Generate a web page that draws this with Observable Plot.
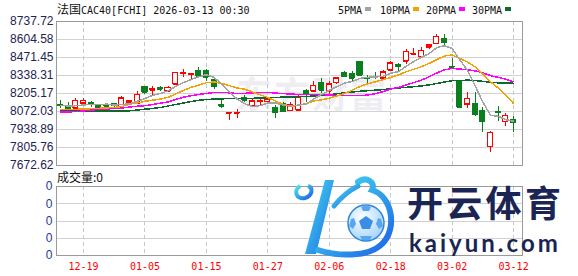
<!DOCTYPE html>
<html><head><meta charset="utf-8">
<script src="https://cdn.jsdelivr.net/npm/d3@7"></script>
<script src="https://cdn.jsdelivr.net/npm/@observablehq/plot@0.6"></script>
<style>
html,body{margin:0;padding:0;background:#fff;}
#wrap{position:relative;width:578px;height:276px;overflow:hidden;}
.abs{position:absolute;white-space:nowrap;}
.mono{font-family:"DejaVu Sans Mono",monospace;font-size:10px;}
.cjk{font-family:"Noto Sans CJK SC",sans-serif;font-size:12px;}
</style></head><body><div id="wrap"></div>
<script>
// ---- data ----
const dates = ["12-16","12-17","12-18","12-19","12-22","12-23","12-24","12-29","12-30","12-31",
"01-02","01-05","01-06","01-07","01-08","01-09","01-12","01-13","01-14","01-15",
"01-16","01-19","01-20","01-21","01-22","01-23","01-26","01-27","01-28","01-29",
"01-30","02-02","02-03","02-04","02-05","02-06","02-09","02-10","02-11","02-12",
"02-13","02-16","02-17","02-18","02-19","02-20","02-23","02-24","02-25","02-26",
"02-27","03-02","03-03","03-04","03-05","03-06","03-09","03-10","03-11","03-12"];
const tickDates = ["12-19","01-05","01-15","01-27","02-06","02-18","03-02","03-12"];
const yTicks = [7672.62,7805.76,7938.89,8072.03,8205.17,8338.31,8471.45,8604.58,8737.72];
const volTickLabels = ["0","0","0","0","0"];

const open = [8120.1,8114.9,8095.7,8134.9,8138.6,8116.4,8116.4,8126.0,8105.3,8138.6,
8131.2,8249.6,8229.6,8245.9,8220.0,8275.4,8350.9,8344.2,8369.4,8367.9,
8308.7,8120.1,8059.5,8059.5,8169.7,8114.9,8142.3,8143.8,8099.4,8125.3,
8077.2,8083.1,8225.2,8220.0,8282.8,8221.5,8286.5,8356.8,8347.9,8435.9,
8319.8,8330.9,8317.6,8377.5,8412.3,8443.3,8495.9,8477.4,8547.6,8572.8,
8610.5,8402.7,8297.6,8127.5,8129.0,8079.4,7809.5,8066.9,7995.9,8007.0];
const close = [8114.2,8090.5,8149.7,8149.7,8122.3,8100.1,8110.5,8116.4,8168.2,8146.0,
8196.3,8214.1,8234.8,8234.8,8245.9,8358.3,8356.8,8349.4,8332.4,8325.7,
8253.3,8111.2,8064.6,8064.6,8153.4,8148.2,8148.2,8159.3,8064.6,8072.0,
8121.6,8177.8,8197.8,8260.7,8229.6,8275.4,8318.3,8330.9,8317.6,8342.0,
8316.1,8327.2,8362.0,8427.1,8402.7,8514.4,8501.0,8521.8,8561.7,8625.3,
8584.6,8397.5,8103.8,8166.0,8046.2,7994.4,7914.5,8063.2,8038.8,7988.5];
const high = [8153.4,8138.6,8166.7,8170.4,8148.2,8127.5,8131.2,8133.4,8184.5,8149.7,
8217.8,8259.2,8257.0,8259.2,8257.0,8360.5,8381.2,8353.1,8393.8,8384.9,
8327.2,8157.1,8066.1,8089.1,8190.4,8158.6,8163.0,8175.6,8116.4,8140.8,
8138.6,8200.0,8237.0,8293.9,8313.9,8293.9,8319.8,8369.4,8364.2,8444.1,
8336.1,8356.8,8373.8,8441.9,8424.9,8532.8,8536.5,8549.1,8561.7,8643.8,
8643.1,8462.6,8297.6,8214.1,8212.6,8100.1,7926.3,8107.5,8055.8,8035.1];
const low = [8094.2,8077.2,8095.7,8134.9,8103.8,8092.0,8100.1,8096.4,8105.3,8116.4,
8131.2,8195.6,8183.0,8216.3,8212.6,8271.7,8323.5,8312.4,8321.3,8295.4,
8232.5,8096.4,8005.5,8016.6,8138.6,8099.4,8111.2,8123.8,8022.5,8066.1,
8077.2,8083.1,8136.4,8211.1,8205.2,8194.1,8269.5,8321.3,8284.3,8332.4,
8277.7,8308.7,8305.0,8364.2,8362.0,8421.9,8487.7,8466.3,8532.8,8572.8,
8558.7,8391.6,8092.0,8092.8,8032.8,7914.5,7767.3,7994.4,7963.3,7920.4];

const ma5 = [8117.9,8112.7,8114.9,8120.1,8125.3,8122.3,8126.8,8120.1,8123.8,8128.2,
8147.5,8168.2,8191.9,8205.2,8225.2,8257.7,8285.8,8308.7,8328.7,8344.2,
8323.5,8274.7,8217.8,8163.8,8129.7,8108.3,8115.7,8134.9,8134.9,8118.6,
8113.5,8119.4,8126.8,8166.0,8197.8,8228.1,8256.2,8282.8,8294.7,8316.9,
8325.0,8326.5,8333.1,8354.6,8367.2,8406.4,8441.1,8473.7,8500.3,8544.7,
8558.7,8538.0,8454.4,8375.3,8259.9,8141.6,8044.7,8036.5,8011.4,7999.6];
const ma10 = [8088.3,8088.3,8088.3,8089.8,8092.8,8095.7,8098.7,8101.6,8109.0,8126.8,
8134.9,8147.5,8155.6,8164.5,8176.3,8202.2,8227.4,8250.3,8266.6,8285.1,
8290.2,8279.9,8262.9,8245.9,8237.0,8216.3,8194.8,8176.3,8149.0,8123.8,
8110.5,8117.2,8130.5,8150.4,8157.8,8170.4,8187.4,8205.2,8230.3,8257.0,
8276.9,8291.7,8308.0,8324.3,8342.0,8365.7,8384.2,8403.4,8427.8,8455.9,
8482.5,8489.9,8464.1,8438.2,8401.9,8350.2,8291.7,8245.9,8193.3,8129.7];
const ma20 = [8066.9,8068.3,8072.0,8075.7,8083.1,8086.8,8090.5,8094.2,8097.9,8105.3,
8111.2,8114.9,8123.8,8133.4,8142.3,8160.8,8177.1,8188.9,8197.8,8205.9,
8212.6,8214.1,8209.6,8205.2,8206.7,8208.9,8211.1,8213.3,8208.1,8204.4,
8200.7,8198.5,8197.0,8198.5,8197.8,8193.3,8191.1,8190.4,8189.6,8190.4,
8193.3,8204.4,8219.2,8237.7,8250.3,8268.0,8285.8,8304.3,8328.7,8356.8,
8379.7,8390.8,8385.6,8381.2,8372.3,8358.3,8337.6,8324.3,8310.2,8292.5];
const ma30 = [8077.2,8077.2,8077.2,8077.2,8077.2,8077.2,8077.2,8077.2,8077.2,8077.2,
8083.1,8089.1,8094.2,8101.6,8112.7,8123.8,8134.9,8146.0,8154.9,8160.8,
8163.8,8166.0,8166.7,8168.2,8168.9,8169.7,8171.2,8172.6,8175.6,8178.5,
8178.5,8181.5,8183.0,8186.7,8190.4,8196.3,8203.0,8210.4,8215.5,8222.2,
8225.9,8229.6,8234.0,8240.7,8245.9,8251.0,8255.5,8261.4,8268.8,8279.1,
8290.2,8299.9,8300.6,8304.3,8300.6,8295.4,8288.0,8284.3,8283.6,8280.6];

// ---- build ----
const RED = "#ff0000", GREEN = "#0a7f1e";
const rows = dates.map((d, i) => ({i, date: d, open: open[i], close: close[i], high: high[i], low: low[i],
  ma5: ma5[i], ma10: ma10[i], ma20: ma20[i], ma30: ma30[i]}));
const tickIdx = tickDates.map(t => dates.indexOf(t));
const up = d => d.close >= d.open;
const col = d => up(d) ? RED : GREEN;
const xDomain = [-0.52, 60.16];
const half = 0.33;

const wrap = document.getElementById("wrap");

// faint watermark behind
const wm = document.createElement("div");
wm.className = "abs";
wm.style.cssText = "left:236px;top:66px;font-family:'Noto Sans CJK SC';font-weight:700;font-size:36px;color:#eeeef2;letter-spacing:2px;";
wm.textContent = "东方财富";
wrap.appendChild(wm);

const main = Plot.plot({
  width: 578, height: 170,
  marginLeft: 56, marginRight: 56, marginTop: 21, marginBottom: 5,
  x: {domain: xDomain, axis: null},
  y: {domain: [yTicks[0], yTicks[yTicks.length - 1]], axis: null},
  style: {background: "transparent", fontFamily: "'Liberation Sans', Arial, sans-serif", fontSize: "12px", color: "#1b2452", shapeRendering: "crispEdges", overflow: "visible"},
  marks: [
    Plot.ruleY(yTicks, {stroke: "#d2d2d2"}),
    Plot.ruleX(tickIdx, {stroke: "#c8c8c8", strokeDasharray: "4,3"}),
    Plot.ruleX(rows, {x: "i", y1: "low", y2: "high", stroke: col}),
    Plot.rect(rows, {x1: d => d.i - half, x2: d => d.i + half, y1: "open", y2: "close", fill: d => up(d) ? "white" : GREEN, stroke: col}),
    Plot.ruleY(rows, {x1: d => d.i - half, x2: d => d.i + half, y: "close", stroke: col}),
    Plot.ruleY(rows, {x1: d => d.i - half, x2: d => d.i + half, y: "open", stroke: col}),
    Plot.line(rows, {x: "i", y: "ma30", stroke: "#0b6a2c"}),
    Plot.line(rows, {x: "i", y: "ma20", stroke: "#ff00ff"}),
    Plot.line(rows, {x: "i", y: "ma10", stroke: "#f2a300"}),
    Plot.line(rows, {x: "i", y: "ma5", stroke: "#a3a3a3"}),
    Plot.frame({stroke: "#9a9a9a"}),
    Plot.axisY(yTicks, {tickSize: 0, tickPadding: 3, tickFormat: d => d.toFixed(2), label: null})
  ]
});
main.style.position = "absolute"; main.style.left = "0px"; main.style.top = "0px";
wrap.appendChild(main);

const vol = Plot.plot({
  width: 578, height: 106,
  marginLeft: 56, marginRight: 56, marginTop: 16, marginBottom: 21,
  x: {domain: xDomain, axis: null},
  y: {domain: [0, 4], axis: null},
  style: {background: "transparent", fontFamily: "'Liberation Sans', Arial, sans-serif", fontSize: "12px", color: "#1a3a9a", shapeRendering: "crispEdges", overflow: "visible"},
  marks: [
    Plot.ruleY([1, 2, 3], {stroke: "#d2d2d2"}),
    Plot.ruleX(tickIdx, {stroke: "#c8c8c8", strokeDasharray: "4,3"}),
    Plot.frame({stroke: "#9a9a9a"}),
    Plot.axisY([0, 1, 2, 3, 4], {tickSize: 0, tickPadding: 4, tickFormat: d => volTickLabels[d], label: null}),
    Plot.axisX(tickIdx, {tickSize: 0, tickPadding: 7, tickFormat: i => dates[i], fill: "#ff0000", fontFamily: "DejaVu Sans Mono", fontSize: 10, label: null})
  ]
});
vol.style.position = "absolute"; vol.style.left = "0px"; vol.style.top = "170px";
wrap.appendChild(vol);

function addDiv(html, css) {
  const el = document.createElement("div");
  el.className = "abs";
  el.style.cssText = css;
  el.innerHTML = html;
  wrap.appendChild(el);
  return el;
}
// title
addDiv('<span class="cjk">法国</span><span class="mono">CAC40[FCHI] 2026-03-13 00:30</span>', "left:57px;top:2px;line-height:14px;color:#111;");
// legend
const legend = [["5PMA", "#a3a3a3", 338, 365], ["10PMA", "#f2a300", 380, 413], ["20PMA", "#ff00ff", 426, 459], ["30PMA", "#0b6a2c", 472, 505]];
legend.forEach(([t, c, x, sx]) => {
  addDiv(`<span class="mono">${t}</span>`, `left:${x}px;top:2px;line-height:14px;color:#111;`);
  addDiv("", `left:${sx}px;top:7px;width:6px;height:4px;background:${c};`);
});
// volume label
addDiv('<span class="cjk">成交量:0</span>', "left:57px;top:169px;line-height:16px;color:#111;");

// kaiyun logo overlay
const ns = "http://www.w3.org/2000/svg";
const logo = document.createElementNS(ns, "svg");
logo.setAttribute("width", 578); logo.setAttribute("height", 276);
logo.style.cssText = "position:absolute;left:0;top:0;pointer-events:none;";
logo.innerHTML = `
<defs>
 <linearGradient id="kg" x1="0" y1="0" x2="1" y2="1">
  <stop offset="0" stop-color="#47e6f0"/><stop offset="1" stop-color="#1c62e6"/>
 </linearGradient>
 <radialGradient id="ball" cx="0.4" cy="0.35" r="0.7">
  <stop offset="0" stop-color="#ffffff"/><stop offset="1" stop-color="#9fd2ff"/>
 </radialGradient>
</defs>
<path d="M300 186 C 293 190 296 200 305 198 C 312 196 314 188 308 186" fill="none" stroke="url(#kg)" stroke-width="4"/>
<path d="M325 180 L 334 180 L 316 254 L 305 254 Z" fill="url(#kg)"/>
<path d="M358 182 C 366 176 376 182 372 190 C 392 196 398 228 382 244 C 368 258 336 256 318 250" fill="none" stroke="url(#kg)" stroke-width="6" stroke-linecap="round"/>
<path d="M334 206 C 342 196 350 190 358 186" fill="none" stroke="url(#kg)" stroke-width="5" stroke-linecap="round"/>
<circle cx="366" cy="223" r="18" fill="url(#ball)" stroke="#2f86e0" stroke-width="1.5"/>
<polygon points="366,216 373,221 370,229 362,229 359,221" fill="#3a8ee6"/>
<polygon points="366,205 371,207 369,211 363,211 361,207" fill="#5aa6ee"/>
<polygon points="381,219 383,226 379,229 376,224 378,218" fill="#5aa6ee"/>
<polygon points="351,219 354,218 356,224 353,229 349,226" fill="#5aa6ee"/>
<polygon points="360,236 372,236 370,240 362,240" fill="#5aa6ee"/>
<text x="407" y="217" font-family="Noto Sans CJK SC" font-weight="700" font-size="36" fill="#1b2553" letter-spacing="3.3">开云体育</text>
<text x="409" y="252" font-family="Lato, 'Noto Sans', sans-serif" font-weight="700" font-size="24" fill="#1b2553" letter-spacing="3">kaiyun.com</text>
`;
wrap.appendChild(logo);
</script>
</body></html>
